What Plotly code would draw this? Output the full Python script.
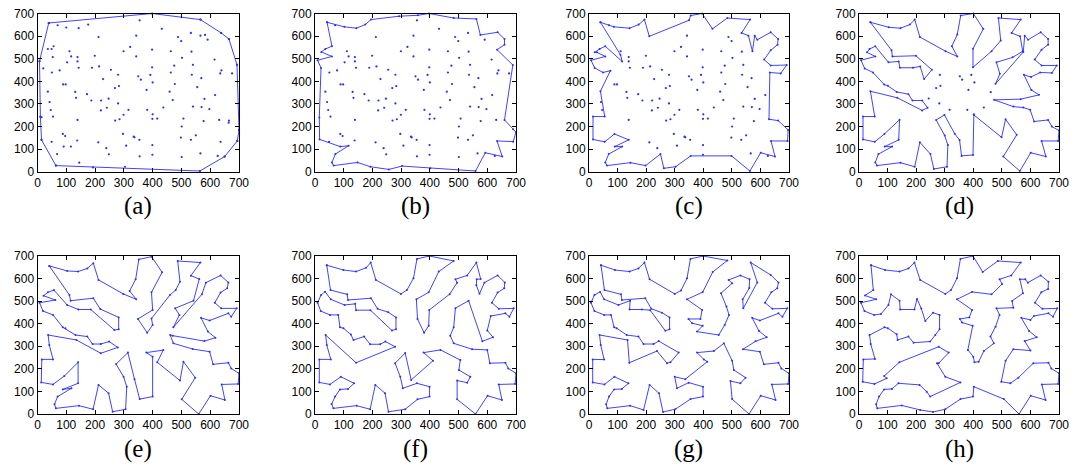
import plotly.graph_objects as go

# ---------------- data ----------------
CITIES = [
    (355, 670), (70, 648), (176, 651), (100, 638), (143, 635), (432, 632), (343, 602), (212, 596),
    (488, 596), (533, 614), (566, 602), (582, 605), (591, 584), (499, 578), (322, 552), (56, 555),
    (36, 543), (49, 543), (398, 540), (299, 533), (111, 533), (463, 533), (139, 507), (117, 510),
    (53, 507), (199, 513), (343, 510), (535, 531), (615, 496), (502, 504), (540, 473), (139, 488),
    (103, 484), (398, 462), (214, 466), (189, 460), (143, 460), (20, 457), (50, 439), (77, 448),
    (475, 469), (463, 439), (639, 448), (676, 435), (635, 435), (255, 451), (280, 429), (536, 429),
    (569, 414), (350, 422), (359, 407), (392, 428), (228, 410), (89, 386), (98, 386), (400, 395),
    (477, 388), (555, 374), (269, 370), (283, 379), (379, 362), (36, 354), (131, 353), (172, 343),
    (134, 327), (459, 354), (617, 339), (580, 322), (247, 323), (187, 315), (221, 315), (42, 308),
    (280, 302), (470, 317), (241, 283), (220, 271), (316, 274), (381, 274), (437, 284), (540, 288),
    (570, 286), (597, 277), (46, 273), (54, 244), (14, 241), (400, 254), (299, 252), (399, 234),
    (416, 235), (507, 235), (285, 232), (270, 226), (139, 229), (577, 224), (631, 229), (665, 226),
    (664, 217), (501, 200), (88, 167), (96, 158), (297, 167), (334, 155), (337, 152), (550, 161),
    (354, 141), (498, 151), (533, 141), (138, 138), (49, 132), (211, 130), (636, 132), (308, 115),
    (399, 118), (116, 111), (91, 111), (239, 104), (68, 78), (248, 77), (399, 75), (355, 68),
    (566, 81), (501, 65), (626, 70), (145, 40), (193, 19), (304, 22),
    (39, 658), (398, 700), (566, 673), (638, 614), (665, 587), (693, 473), (700, 185), (694, 136),
    (650, 67), (564, 3), (64, 27), (14, 141), (10, 243), (7, 489),
]

# cities still outside the tour in panel (d)
DOTS_D = [(283, 428), (353, 422), (393, 428), (404, 395), (361, 407), (270, 370), (285, 380),
          (383, 362), (461, 352), (244, 324), (281, 302), (317, 274), (379, 274), (437, 284),
          (402, 254)]

TOUR_A = [(39, 658), (398, 700), (566, 673), (638, 614), (665, 587), (693, 473), (700, 185),
          (694, 136), (650, 67), (564, 3), (64, 27), (14, 141), (10, 243), (7, 489)]

TOUR_B = [(42, 661), (102, 641), (144, 635), (175, 651), (195, 673), (293, 688), (358, 692),
          (397, 700), (483, 680), (562, 676), (576, 605), (636, 617), (660, 587), (660, 562),
          (634, 540), (689, 472), (660, 229), (690, 188), (700, 175), (690, 133), (634, 136),
          (652, 67), (593, 84), (559, 3), (402, 15), (303, 25), (257, 10), (193, 22), (148, 41),
          (65, 27), (59, 41), (71, 78), (117, 115), (88, 111), (16, 143), (15, 240), (21, 459),
          (9, 493), (59, 510), (22, 530), (36, 543), (59, 555)]

TOUR_C = [(40, 661), (87, 641), (142, 635), (174, 651), (194, 673), (211, 599), (350, 670),
          (356, 691), (396, 700), (432, 632), (484, 680), (564, 673), (534, 614), (558, 602),
          (572, 533), (580, 602), (589, 584), (636, 617), (662, 587), (660, 562), (636, 537),
          (613, 496), (636, 470), (692, 472), (671, 435), (633, 439), (630, 232), (662, 226),
          (697, 185), (695, 136), (637, 136), (651, 67), (601, 84), (563, 3), (499, 70), (356, 70),
          (303, 22), (262, 15), (250, 78), (198, 27), (145, 40), (63, 27), (57, 41), (69, 78),
          (116, 111), (90, 111), (139, 141), (89, 167), (55, 132), (14, 143), (14, 244), (55, 244),
          (40, 356), (75, 447), (49, 439), (20, 459), (7, 493), (57, 510), (28, 528), (20, 528),
          (37, 543), (57, 555), (116, 488), (110, 518)]

TOUR_D = [(40, 661), (104, 639), (145, 635), (178, 651), (195, 673), (213, 596), (303, 533),
          (344, 510), (325, 555), (344, 607), (356, 691), (400, 700), (435, 632), (399, 544),
          (399, 462), (464, 533), (496, 580), (488, 680), (566, 673), (534, 614), (564, 599),
          (573, 533), (538, 506), (481, 484), (493, 433), (478, 389), (575, 530), (580, 602),
          (592, 584), (636, 617), (662, 587), (662, 562), (639, 540), (615, 496), (639, 470),
          (692, 470), (675, 437), (634, 439), (602, 419), (577, 429), (603, 362), (630, 340),
          (566, 321), (473, 318), (540, 288), (575, 284), (599, 274), (613, 222), (662, 229),
          (675, 200), (700, 182), (697, 136), (639, 136), (654, 67), (601, 84), (563, 3),
          (505, 67), (552, 163), (513, 232), (499, 152), (402, 251), (399, 74), (359, 70),
          (352, 140), (335, 168), (299, 251), (270, 229), (300, 160), (311, 118), (308, 22),
          (262, 12), (250, 78), (213, 130), (195, 22), (145, 40), (63, 27), (57, 41), (68, 78),
          (116, 111), (90, 111), (139, 141), (142, 230), (89, 167), (55, 132), (14, 143),
          (14, 244), (55, 244), (40, 356), (134, 327), (221, 271), (240, 283), (221, 315),
          (187, 315), (173, 343), (132, 353), (101, 380), (88, 386), (49, 439), (20, 457),
          (7, 493), (57, 510), (28, 528), (37, 543), (57, 555), (103, 484), (139, 488),
          (143, 460), (189, 460), (214, 466), (228, 410), (255, 451), (199, 513), (117, 510),
          (114, 537)]

TOUR_E = [(41, 656), (103, 634), (141, 631), (173, 645), (194, 668), (212, 594), (298, 532),
          (343, 508), (320, 545), (341, 597), (352, 685), (396, 697), (433, 628), (396, 539),
          (400, 461), (349, 421), (381, 360), (400, 394), (396, 423), (460, 527), (480, 549),
          (495, 586), (487, 678), (566, 671), (533, 613), (562, 598), (542, 502), (478, 468),
          (493, 439), (472, 384), (571, 530), (585, 582), (636, 614), (663, 583), (659, 557),
          (636, 538), (616, 493), (638, 468), (692, 468), (673, 431), (663, 446), (598, 414),
          (568, 426), (592, 365), (618, 338), (580, 323), (470, 347), (461, 350), (472, 313),
          (539, 288), (598, 276), (610, 220), (663, 227), (673, 202), (700, 180), (697, 133),
          (640, 131), (651, 62), (601, 81), (560, 0), (501, 65), (548, 161), (507, 232),
          (495, 148), (416, 229), (437, 283), (378, 272), (400, 254), (400, 77), (355, 66),
          (337, 154), (314, 272), (273, 221), (299, 165), (310, 121), (306, 21), (261, 10),
          (247, 92), (212, 129), (193, 21), (144, 37), (64, 25), (59, 43), (70, 77), (118, 114),
          (88, 109), (141, 136), (141, 229), (93, 168), (54, 131), (13, 140), (15, 242),
          (54, 242), (41, 306), (37, 350), (135, 328), (220, 269), (279, 295), (249, 321),
          (220, 310), (191, 310), (173, 343), (132, 350), (97, 380), (88, 384), (54, 439),
          (19, 456), (7, 493), (62, 505), (21, 524), (36, 539), (57, 549), (103, 483), (142, 463),
          (185, 463), (267, 372), (282, 375), (282, 428), (218, 465), (194, 513), (115, 502),
          (111, 527)]

TOUR_F = [(41, 659), (99, 638), (143, 631), (178, 648), (194, 671), (212, 594), (299, 532),
          (320, 549), (343, 601), (355, 687), (398, 700), (483, 678), (431, 631), (396, 539),
          (353, 508), (357, 421), (380, 360), (396, 391), (398, 461), (469, 531), (495, 582),
          (489, 597), (530, 614), (562, 671), (577, 598), (563, 597), (562, 570), (573, 533),
          (590, 582), (636, 614), (661, 583), (659, 557), (636, 538), (616, 493), (640, 466),
          (692, 468), (677, 431), (663, 446), (612, 434), (600, 370), (620, 340), (583, 322),
          (535, 502), (489, 469), (483, 384), (471, 347), (483, 313), (547, 287), (600, 284),
          (609, 225), (663, 227), (673, 202), (700, 180), (697, 133), (640, 131), (651, 62),
          (601, 81), (559, 0), (495, 65), (495, 148), (530, 139), (541, 165), (501, 195),
          (506, 239), (437, 284), (378, 272), (411, 236), (335, 151), (314, 270), (279, 225),
          (297, 165), (306, 114), (355, 136), (399, 121), (399, 77), (357, 65), (314, 21),
          (256, 10), (244, 92), (210, 129), (192, 21), (145, 37), (64, 25), (58, 44), (70, 77),
          (87, 109), (115, 111), (136, 136), (90, 165), (52, 131), (15, 140), (15, 242),
          (55, 242), (41, 306), (37, 350), (143, 227), (279, 298), (245, 321), (227, 309),
          (192, 309), (171, 343), (134, 328), (125, 352), (99, 380), (87, 384), (81, 439),
          (52, 439), (20, 456), (9, 493), (21, 527), (35, 542), (55, 508), (103, 483),
          (140, 488), (143, 460), (193, 460), (268, 370), (282, 375), (282, 428), (255, 451),
          (218, 466), (195, 513), (115, 505), (112, 530), (54, 549)]

TOUR_G = [(42, 659), (91, 638), (142, 631), (173, 645), (194, 671), (212, 597), (300, 532),
          (322, 547), (343, 601), (355, 687), (399, 700), (484, 680), (433, 629), (398, 540),
          (343, 508), (396, 461), (390, 421), (348, 421), (361, 402), (398, 391), (378, 365),
          (454, 350), (475, 394), (490, 439), (481, 476), (462, 535), (501, 579), (489, 594),
          (530, 614), (562, 597), (561, 558), (538, 508), (540, 468), (589, 583), (566, 671),
          (636, 616), (663, 583), (659, 557), (638, 539), (616, 493), (642, 466), (694, 468),
          (677, 431), (663, 446), (598, 414), (571, 426), (595, 368), (622, 340), (583, 322),
          (539, 287), (598, 276), (612, 220), (663, 227), (673, 202), (700, 180), (697, 133),
          (640, 131), (653, 62), (601, 81), (560, 0), (501, 66), (495, 146), (530, 136),
          (548, 161), (507, 195), (501, 236), (472, 313), (437, 279), (378, 272), (402, 242),
          (414, 232), (337, 154), (300, 165), (308, 114), (349, 139), (399, 121), (399, 77),
          (355, 66), (302, 21), (259, 9), (245, 92), (212, 129), (191, 18), (144, 37), (64, 25),
          (60, 43), (70, 77), (88, 109), (115, 111), (138, 136), (89, 165), (54, 131),
          (13, 140), (13, 242), (53, 241), (41, 306), (37, 350), (135, 328), (141, 227),
          (238, 279), (273, 225), (285, 229), (314, 272), (244, 323), (226, 310), (191, 310),
          (173, 343), (132, 350), (97, 380), (88, 384), (77, 439), (53, 439), (19, 456),
          (7, 493), (19, 527), (39, 541), (53, 508), (103, 483), (144, 502), (142, 463),
          (185, 463), (214, 460), (267, 369), (282, 375), (282, 428), (255, 449), (218, 466),
          (197, 513), (115, 505), (112, 530), (54, 549)]

TOUR_H = [(42, 659), (91, 638), (142, 631), (173, 645), (194, 671), (214, 594), (302, 532),
          (322, 549), (343, 601), (355, 687), (399, 700), (433, 629), (486, 678), (566, 671),
          (533, 614), (492, 597), (501, 576), (464, 530), (396, 541), (343, 508), (396, 461),
          (386, 428), (353, 421), (361, 405), (398, 391), (381, 284), (400, 254), (404, 229),
          (419, 232), (437, 279), (472, 313), (460, 343), (478, 387), (492, 439), (481, 468),
          (540, 471), (536, 501), (574, 535), (563, 597), (582, 597), (591, 582), (636, 614),
          (663, 586), (662, 554), (638, 539), (616, 493), (642, 466), (694, 468), (679, 431),
          (663, 446), (612, 434), (600, 417), (568, 426), (595, 368), (622, 340), (580, 323),
          (600, 281), (540, 287), (513, 236), (498, 143), (530, 136), (558, 161), (610, 225),
          (663, 227), (673, 202), (700, 180), (697, 133), (640, 131), (653, 62), (601, 81),
          (560, 0), (507, 66), (402, 121), (399, 77), (355, 66), (302, 21), (259, 9), (214, 18),
          (150, 38), (64, 25), (60, 43), (70, 77), (88, 109), (115, 111), (138, 136), (212, 129),
          (237, 99), (249, 77), (355, 140), (302, 165), (273, 225), (279, 225), (314, 272),
          (279, 298), (141, 229), (88, 168), (97, 158), (54, 133), (13, 143), (15, 242),
          (56, 244), (41, 310), (37, 350), (89, 384), (101, 380), (132, 353), (135, 328),
          (173, 343), (191, 316), (249, 321), (267, 350), (282, 375), (282, 439), (259, 449),
          (232, 412), (218, 467), (203, 510), (194, 463), (144, 463), (142, 502), (112, 530),
          (103, 483), (77, 443), (53, 439), (19, 456), (7, 493), (60, 508), (21, 525), (50, 549)]

TOURS = [TOUR_A, TOUR_B, TOUR_C, TOUR_D, TOUR_E, TOUR_F, TOUR_G, TOUR_H]
LABELS = ["(a)", "(b)", "(c)", "(d)", "(e)", "(f)", "(g)", "(h)"]
TICKS = [0, 100, 200, 300, 400, 500, 600, 700]

# ---------------- layout geometry (pixels) ----------------
W, H = 1079, 465
COLS = [(37.5, 239.0), (315.0, 516.0), (589.0, 789.0), (859.0, 1059.0)]
ROWS = [(13.5, 171.7), (256.0, 414.0)]
CAPTION_Y = [206, 449]

BLUE = "rgb(45,45,255)"


def remaining(tour, cities, r=15):
    out = []
    for cx, cy in cities:
        if all((cx - tx) ** 2 + (cy - ty) ** 2 > r * r for tx, ty in tour):
            out.append((cx, cy))
    return out


DOTS = [CITIES, remaining(TOUR_B, CITIES), remaining(TOUR_C, CITIES), DOTS_D,
        None, None, None, None]

fig = go.Figure()
layout = dict(
    template="none",
    width=W, height=H, margin=dict(l=0, r=0, t=0, b=0, pad=0), autosize=False,
    paper_bgcolor="white", plot_bgcolor="white", showlegend=False,
    font=dict(family="Liberation Sans, Arial, sans-serif", size=12, color="black"),
)
annotations = []
for i, tour in enumerate(TOURS):
    r, c = divmod(i, 4)
    ax = "" if i == 0 else str(i + 1)
    x0, x1 = COLS[c]
    y0, y1 = ROWS[r]
    closed = tour + [tour[0]]
    fig.add_trace(go.Scatter(
        x=[p[0] for p in closed], y=[p[1] for p in closed], mode="lines+markers",
        line=dict(color=BLUE, width=0.9), marker=dict(color=BLUE, size=2),
        xaxis="x" + ax, yaxis="y" + ax, hoverinfo="skip", cliponaxis=False))
    if DOTS[i]:
        pts = DOTS[i]
        fig.add_trace(go.Scatter(
            x=[p[0] for p in pts], y=[p[1] for p in pts], mode="markers",
            marker=dict(color=BLUE, size=2.2),
            xaxis="x" + ax, yaxis="y" + ax, hoverinfo="skip"))
    common = dict(range=[0, 700], tickvals=TICKS, ticks="inside", ticklen=4,
                  tickcolor="black", showline=True, linecolor="black", linewidth=1,
                  mirror="allticks", showgrid=False, zeroline=False, automargin=False,
                  fixedrange=True, tickfont=dict(size=12, color="black"))
    layout["xaxis" + ax] = dict(domain=[x0 / W, x1 / W], anchor="y" + ax, **common)
    layout["yaxis" + ax] = dict(domain=[1 - y1 / H, 1 - y0 / H], anchor="x" + ax, **common)
    annotations.append(dict(
        text=LABELS[i], x=(x0 + x1) / 2 / W, y=1 - CAPTION_Y[r] / H, xref="paper", yref="paper",
        showarrow=False, xanchor="center", yanchor="middle",
        font=dict(family="Liberation Serif, Times New Roman, serif", size=25, color="black")))

layout["annotations"] = annotations
fig.update_layout(**layout)
fig.write_html(
    "out.html",
    config={"displayModeBar": False},
    post_script="document.body.style.margin='0';document.body.style.padding='0';"
                "document.documentElement.style.overflow='hidden';",
)
